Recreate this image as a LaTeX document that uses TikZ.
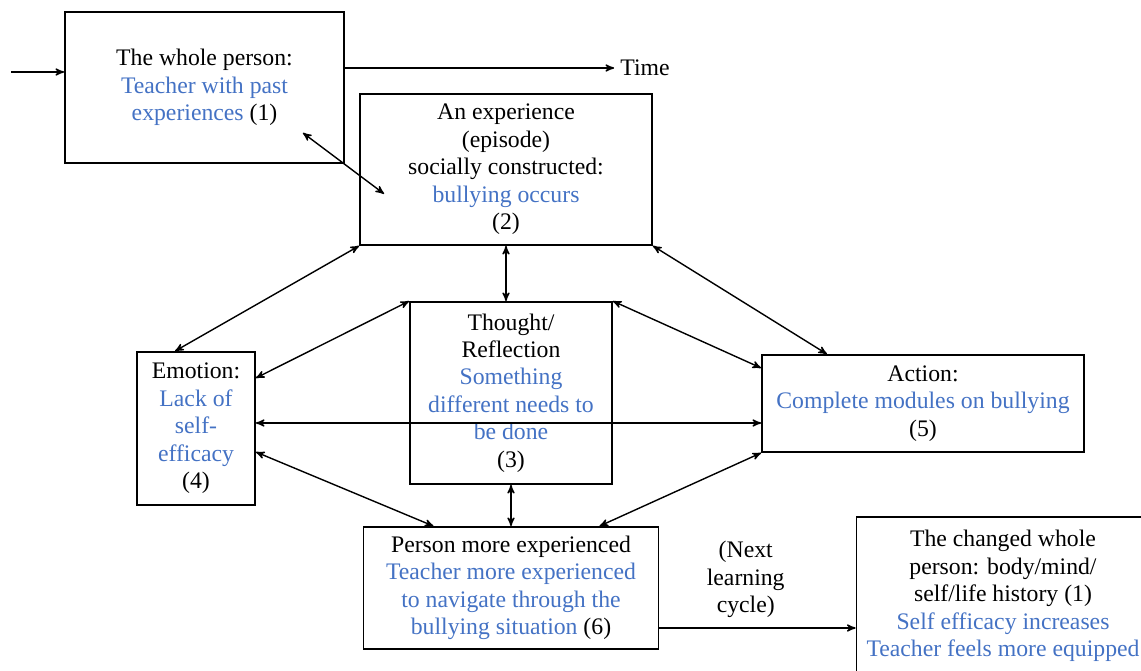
\documentclass[tikz,border=0pt]{standalone}
\usepackage{fontspec}
\setmainfont{Liberation Serif}
\usetikzlibrary{arrows,positioning}
\definecolor{tblue}{RGB}{68,114,196}
\newcommand{\blu}[1]{\textcolor{tblue}{#1}}

\begin{document}
\begin{tikzpicture}[>=stealth',node distance=3cm,on grid,
    box/.style={draw,line width=1pt,align=center,inner sep=2pt,font=\fontsize{13.5}{15.6}\selectfont},
    lbl/.style={align=center,font=\fontsize{13.5}{15.6}\selectfont}]
  \useasboundingbox (0,0) rectangle (22.82,13.42);

  \node[box,minimum width=5.58cm,minimum height=3.02cm] (whole) at (4.09,11.67)
     {The whole person:\\\blu{Teacher with past}\\\blu{experiences} (1)};
  \node[box,minimum width=5.84cm,minimum height=3.02cm] (exp) [below right=1.64cm and 6.03cm of whole]
     {An experience\\(episode)\\socially constructed:\\\blu{bullying occurs}\\(2)};
  \node[box,minimum width=4.04cm,minimum height=3.64cm] (thought) [below right=4.47cm and 0.10cm of exp]
     {Thought/\\Reflection\\\blu{Something}\\\blu{different needs to}\\\blu{be done}\\(3)};
  \node[box,minimum width=2.36cm,minimum height=3.06cm] (emo) [below left=0.71cm and 6.30cm of thought]
     {Emotion:\\\blu{Lack of}\\\blu{self-}\\\blu{efficacy}\\(4)};
  \node[box,minimum width=6.44cm,minimum height=1.94cm] (act) [below right=0.21cm and 8.24cm of thought]
     {Action:\\\blu{Complete modules on bullying}\\(5)};
  \node[box,minimum width=5.90cm,minimum height=2.44cm] (per) [below=3.90cm of thought]
     {Person more experienced\\\blu{Teacher more experienced}\\\blu{to navigate through the}\\\blu{bullying situation} (6)};
  \node[box,minimum width=5.86cm,minimum height=3.16cm] (sev) [below right=0.16cm and 9.84cm of per]
     {The changed whole\\person: body/mind/\\self/life history (1)\\\blu{Self efficacy increases}\\\blu{Teacher feels more equipped}};

  \node[lbl] (time) at (12.9,12.06) {Time};
  \coordinate (in) at (0.22,11.98);

\tikzset{link/.style={<->,line width=0.8pt}}
\tikzset{flow/.style={->,line width=0.8pt}}
\path (in)     edge [flow] (in -| whole.west)
      (time.west -| whole.east) edge [flow] (time.west)
      ([shift={(-0.84,0.62)}]whole.south east) edge [link] ([shift={(0.5,1.04)}]exp.south west)
      (exp.south) edge [link] (exp.south |- thought.north)
      (exp.south west) edge [link] ([xshift=-0.42cm]emo.north)
      (exp.south east) edge [link] ([xshift=-1.92cm]act.north)
      (thought.north west) edge [link] ([yshift=1.01cm]emo.east)
      (thought.north east) edge [link] ([yshift=0.71cm]act.west)
      ([yshift=0.11cm]emo.east) edge [link] ([yshift=0.11cm]emo.east -| act.west)
      ([yshift=-0.47cm]emo.east) edge [link] ([xshift=-1.55cm]per.north)
      (thought.south) edge [link] (thought.south |- per.north)
      (act.south west) edge [link] ([xshift=1.77cm]per.north)
      ([yshift=-0.8cm]per.east) edge [flow] node [lbl,above,pos=0.44,yshift=2pt] {(Next\\learning\\cycle)} ([yshift=-0.8cm]per.east -| sev.west);
\end{tikzpicture}
\end{document}
